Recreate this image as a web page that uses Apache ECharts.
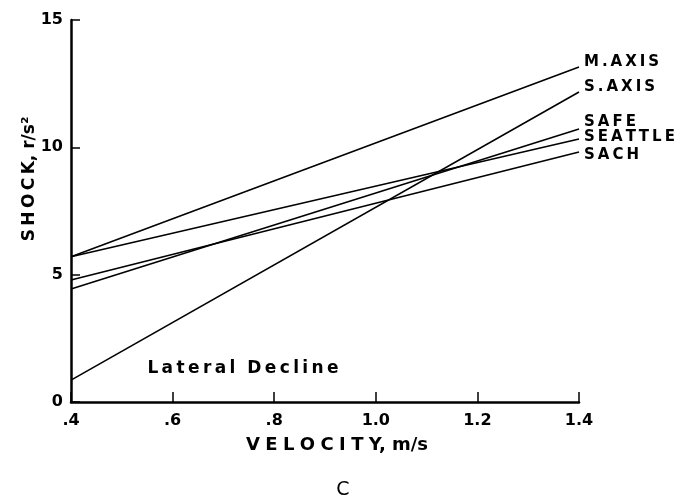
<!DOCTYPE html>
<html>
<head>
<meta charset="utf-8">
<script src="https://cdn.jsdelivr.net/npm/echarts@6/dist/echarts.min.js"></script>
<style>
  html, body { margin: 0; padding: 0; background: #fff; }
  #chart { width: 678px; height: 500px; }
</style>
</head>
<body>
<div id="chart"></div>
<script>
var velocity = [0.4, 1.4];
var seriesNames = ['M.AXIS', 'S.AXIS', 'SAFE', 'SEATTLE', 'SACH'];
var mAxis = [5.7, 13.15];
var sAxis = [0.86, 12.17];
var safe = [4.44, 10.72];
var seattle = [5.7, 10.33];
var sach = [4.79, 9.82];
var xTicks = [0.4, 0.6, 0.8, 1.0, 1.2, 1.4];
var yTicks = [0, 5, 10, 15];

// vertical nudge of the end labels so they don't collide
var labelNudge = [-5, -5, -7, -2, 3];

var font = 'DejaVu Sans';

// spread letters out a bit, like the typeset original
function spaced(s, sep) {
    return s.split('').join(sep || '\u2009');
}

function pairs(ys) {
    return velocity.map(function (x, i) { return [x, ys[i]]; });
}

var allValues = [mAxis, sAxis, safe, seattle, sach];

var series = seriesNames.map(function (name, i) {
    return {
        name: name,
        type: 'line',
        data: pairs(allValues[i]),
        symbol: 'none',
        silent: true,
        lineStyle: { color: '#000', width: 1.6 },
        endLabel: {
            show: true,
            formatter: spaced(name),
            color: '#000',
            fontFamily: font,
            fontWeight: 'bold',
            fontSize: 15,
            distance: 5,
            offset: [0, labelNudge[i]]
        }
    };
});

var chart = echarts.init(document.getElementById('chart'));
chart.setOption({
    animation: false,
    backgroundColor: '#fff',
    grid: { left: 71, right: 99, top: 20, bottom: 98 },
    xAxis: {
        type: 'value',
        min: xTicks[0],
        max: xTicks[xTicks.length - 1],
        interval: 0.2,
        axisLine: { lineStyle: { color: '#000', width: 2.5 } },
        axisTick: { inside: true, length: 10, lineStyle: { color: '#000', width: 1.5 } },
        splitLine: { show: false },
        axisLabel: {
            margin: 11,
            color: '#000',
            fontFamily: font,
            fontWeight: 'bold',
            fontSize: 16,
            formatter: function (v) { return v.toFixed(1).replace(/^0/, ''); }
        }
    },
    yAxis: {
        type: 'value',
        min: yTicks[0],
        max: yTicks[yTicks.length - 1],
        interval: 5,
        axisLine: { show: true, lineStyle: { color: '#000', width: 2.5 } },
        axisTick: { show: true, inside: true, length: 9, lineStyle: { color: '#000', width: 1.5 } },
        splitLine: { show: false },
        axisLabel: {
            margin: 8,
            color: '#000',
            fontFamily: font,
            fontWeight: 'bold',
            fontSize: 16
        }
    },
    graphic: [
        {
            type: 'text',
            x: 30, y: 179,
            rotation: Math.PI / 2,
            style: {
                text: spaced('SHOCK') + ', r/s\u00b2',
                font: 'bold 17px ' + font,
                fill: '#000',
                align: 'center',
                verticalAlign: 'middle'
            }
        },
        {
            type: 'text',
            x: 337, y: 445,
            style: {
                text: spaced('VELOCITY', '\u2009\u200a') + ', m/s',
                font: 'bold 18px ' + font,
                fill: '#000',
                align: 'center',
                verticalAlign: 'middle'
            }
        },
        {
            type: 'text',
            x: 243, y: 369,
            style: {
                text: spaced('Lateral') + '  ' + spaced('Decline'),
                font: 'bold 17px ' + font,
                fill: '#000',
                align: 'center',
                verticalAlign: 'middle'
            }
        },
        {
            type: 'text',
            x: 343, y: 490,
            style: {
                text: 'C',
                font: '19px ' + font,
                fill: '#000',
                align: 'center',
                verticalAlign: 'middle'
            }
        }
    ],
    series: series
});
</script>
</body>
</html>
